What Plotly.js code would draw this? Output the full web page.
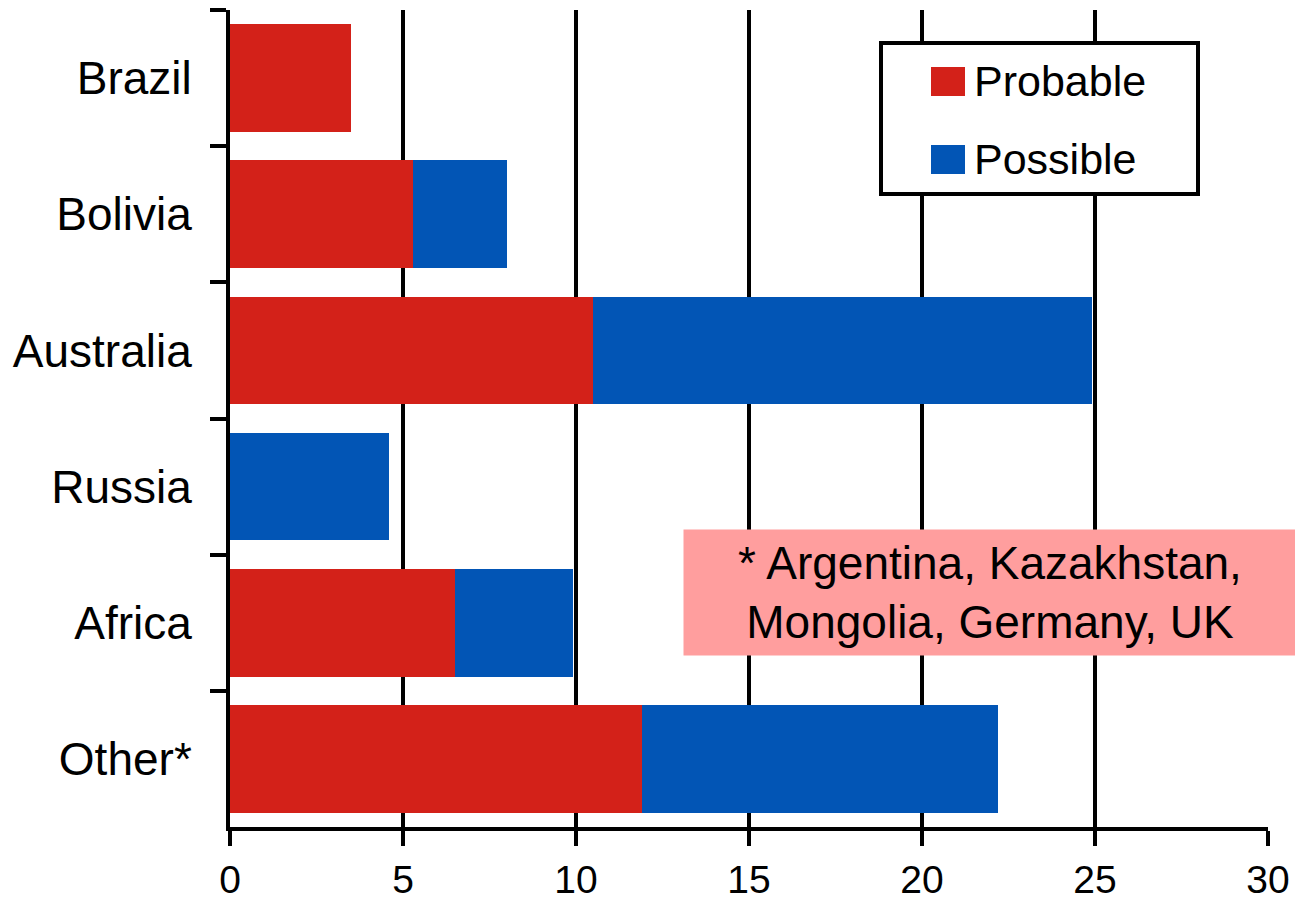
<!DOCTYPE html>
<html>
<head>
<meta charset="utf-8">
<script src="https://cdn.plot.ly/plotly-3.0.1.min.js"></script>
<style>html,body{margin:0;padding:0;background:#fff;}#chart{width:1295px;height:900px;}</style>
</head>
<body>
<div id="chart"></div>
<script>
const categories = ["Brazil", "Bolivia", "Australia", "Russia", "Africa", "Other*"];
const probable = [3.5, 5.3, 10.5, 0, 6.5, 11.9];
const possible = [0, 2.7, 14.4, 4.6, 3.4, 10.3];
const seriesNames = ["Probable", "Possible"];
const seriesColors = ["#D32119", "#0255B5"];
const xTicks = [0, 5, 10, 15, 20, 25, 30];
const noteText = "* Argentina, Kazakhstan,<br>Mongolia, Germany, UK";

const W = 1295, H = 900;
const M = {l: 230, r: 27, t: 10, b: 73};
const pw = W - M.l - M.r, ph = H - M.t - M.b;
const px = x => (x - M.l) / pw;
const py = y => (H - M.b - y) / ph;

const traces = [probable, possible].map((vals, i) => ({
  type: "bar", orientation: "h", name: seriesNames[i],
  y: categories, x: vals,
  marker: {color: seriesColors[i], line: {width: 0}},
  showlegend: false, hoverinfo: "x+y+name"
}));

const shapes = [
  {type: "rect", xref: "paper", yref: "paper", x0: px(881), x1: px(1198), y0: py(194), y1: py(43),
   line: {color: "#000", width: 4}, fillcolor: "#fff", layer: "above"},
  {type: "rect", xref: "paper", yref: "paper", x0: px(931), x1: px(965), y0: py(96), y1: py(67),
   line: {width: 0}, fillcolor: seriesColors[0], layer: "above"},
  {type: "rect", xref: "paper", yref: "paper", x0: px(931), x1: px(965), y0: py(174), y1: py(145),
   line: {width: 0}, fillcolor: seriesColors[1], layer: "above"}
];

const annotations = [
  {xref: "paper", yref: "paper", x: px(972), y: py(81), xanchor: "left", yanchor: "middle",
   text: seriesNames[0], showarrow: false, font: {size: 43, color: "#000"}},
  {xref: "paper", yref: "paper", x: px(972), y: py(159), xanchor: "left", yanchor: "middle",
   text: seriesNames[1], showarrow: false, font: {size: 43, color: "#000"}},
  {xref: "paper", yref: "paper", x: px(990), y: py(592), xanchor: "center", yanchor: "middle",
   text: noteText, showarrow: false, align: "center", bgcolor: "#FF9E9E",
   width: 610, height: 123, font: {size: 46, color: "#000"}}
];

const layout = {
  width: W, height: H,
  margin: M,
  paper_bgcolor: "#fff", plot_bgcolor: "#fff",
  barmode: "stack", bargap: 0.21,
  font: {family: "Liberation Sans, Arial, sans-serif", color: "#000"},
  xaxis: {
    range: [0, 30], tickvals: xTicks, ticktext: xTicks.map(String),
    showgrid: true, gridcolor: "#000", gridwidth: 4,
    zeroline: false, showline: true, linecolor: "#000", linewidth: 4,
    ticks: "outside", ticklen: 15, tickwidth: 4, tickcolor: "#000",
    ticklabelstandoff: 0,
    tickfont: {size: 39}, fixedrange: true
  },
  yaxis: {
    type: "category", categoryorder: "array", categoryarray: categories,
    autorange: "reversed",
    showgrid: false, zeroline: false, showline: true, linecolor: "#000", linewidth: 4,
    ticks: "outside", tickson: "boundaries", ticklen: 16, tickwidth: 4, tickcolor: "#000",
    ticklabelstandoff: 25,
    tickfont: {size: 46}, fixedrange: true
  },
  shapes: shapes,
  annotations: annotations,
  showlegend: false
};

Plotly.newPlot("chart", traces, layout, {displayModeBar: false, staticPlot: true});
</script>
</body>
</html>
